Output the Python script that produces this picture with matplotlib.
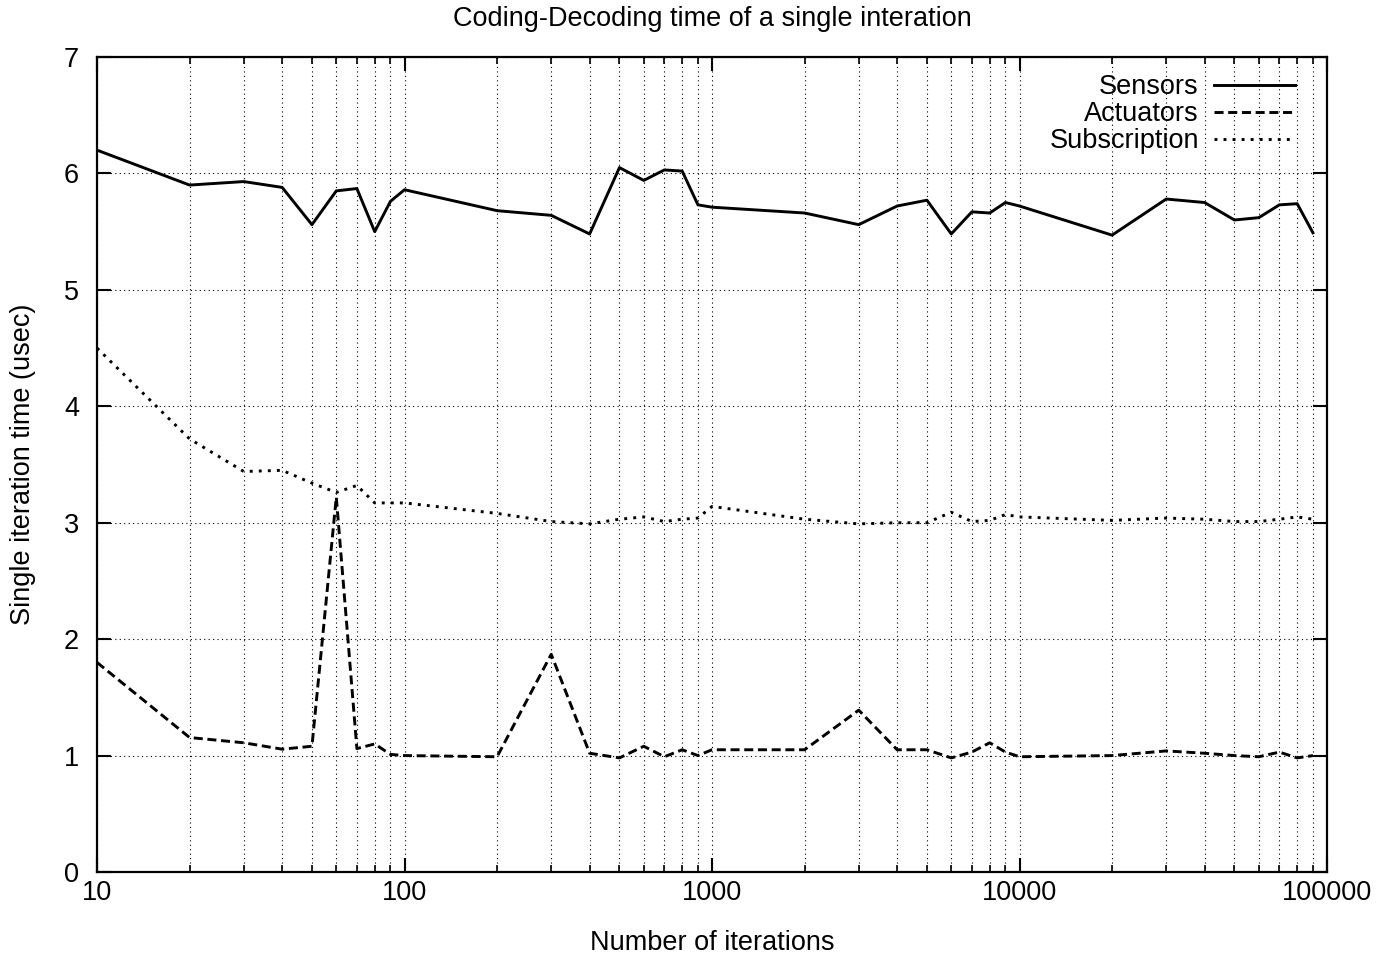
import numpy as np
import matplotlib
matplotlib.use("Agg")
import matplotlib.pyplot as plt
from matplotlib.ticker import LogLocator, FixedLocator, NullFormatter

plt.rcParams['font.family'] = ['Liberation Sans', 'DejaVu Sans']

# iteration counts: 10..90, 100..900, ... 10000..90000
iterations = [m * 10 ** e for e in range(1, 5) for m in range(1, 10)]

sensors = [6.20, 5.90, 5.93, 5.88, 5.56, 5.85, 5.87, 5.50, 5.76,
           5.86, 5.68, 5.64, 5.48, 6.05, 5.94, 6.03, 6.02, 5.73,
           5.71, 5.66, 5.56, 5.72, 5.77, 5.48, 5.67, 5.66, 5.75,
           5.72, 5.47, 5.78, 5.75, 5.60, 5.62, 5.73, 5.74, 5.49]

actuators = [1.80, 1.155, 1.11, 1.055, 1.08, 3.22, 1.06, 1.10, 1.01,
             1.00, 0.99, 1.87, 1.02, 0.98, 1.08, 0.99, 1.05, 1.00,
             1.05, 1.05, 1.39, 1.05, 1.05, 0.98, 1.03, 1.11, 1.03,
             0.99, 1.00, 1.04, 1.02, 1.00, 0.99, 1.03, 0.98, 1.00]

subscription = [4.50, 3.72, 3.44, 3.45, 3.34, 3.26, 3.32, 3.17, 3.17,
                3.17, 3.08, 3.01, 2.99, 3.03, 3.05, 3.01, 3.03, 3.04,
                3.14, 3.03, 2.99, 3.00, 3.00, 3.09, 3.01, 3.02, 3.07,
                3.05, 3.02, 3.04, 3.03, 3.01, 3.01, 3.03, 3.05, 3.03]

FS = 19.5

fig = plt.figure(figsize=(13.82, 9.61), dpi=100)
ax = fig.add_axes([0.0702, 0.0926, 0.890, 0.8481])

ax.plot(iterations, sensors, color='black', lw=2.1, label='Sensors')
ax.plot(iterations, actuators, color='black', lw=2.1, dashes=(3.1, 1.6), label='Actuators')
ax.plot(iterations, subscription, color='black', lw=2.1, dashes=(1.0, 2.1), label='Subscription')

ax.set_xscale('log')
ax.set_xlim(10, 100000)
ax.set_ylim(0, 7)
ax.xaxis.set_minor_locator(LogLocator(base=10, subs=np.arange(2, 10), numticks=20))
ax.xaxis.set_minor_formatter(NullFormatter())
ax.set_xticks([10, 100, 1000, 10000, 100000])
ax.set_xticklabels(['10', '100', '1000', '10000', '100000'])
ax.yaxis.set_major_locator(FixedLocator(range(0, 8)))

ax.grid(True, which='both', axis='x', color='black', ls=(0, (1, 3)), lw=0.8)
ax.grid(True, which='major', axis='y', color='black', ls=(0, (1, 3)), lw=0.8)
ax.set_axisbelow(True)

ax.tick_params(which='major', direction='in', length=10, width=1.5,
               top=True, right=True, labelsize=FS)
ax.tick_params(axis='y', which='major', pad=13)
ax.tick_params(axis='x', which='major', pad=6)
ax.tick_params(which='minor', direction='in', length=5, width=1.2,
               top=True, right=True)
for s in ax.spines.values():
    s.set_linewidth(1.6)

ax.set_title('Coding-Decoding time of a single interation', fontsize=FS, pad=22)
ax.set_xlabel('Number of iterations', fontsize=FS, labelpad=17)
ax.set_ylabel('Single iteration time (usec)', fontsize=FS, labelpad=20)

leg = ax.legend(loc='upper right', bbox_to_anchor=(0.974, 0.979), frameon=False,
                markerfirst=False, fontsize=FS, handlelength=3.0, handletextpad=0.55,
                labelspacing=0.04, borderpad=0, borderaxespad=0)
for t in leg.get_texts():
    t.set_ha('right')

fig.savefig('out.png', dpi=100)
